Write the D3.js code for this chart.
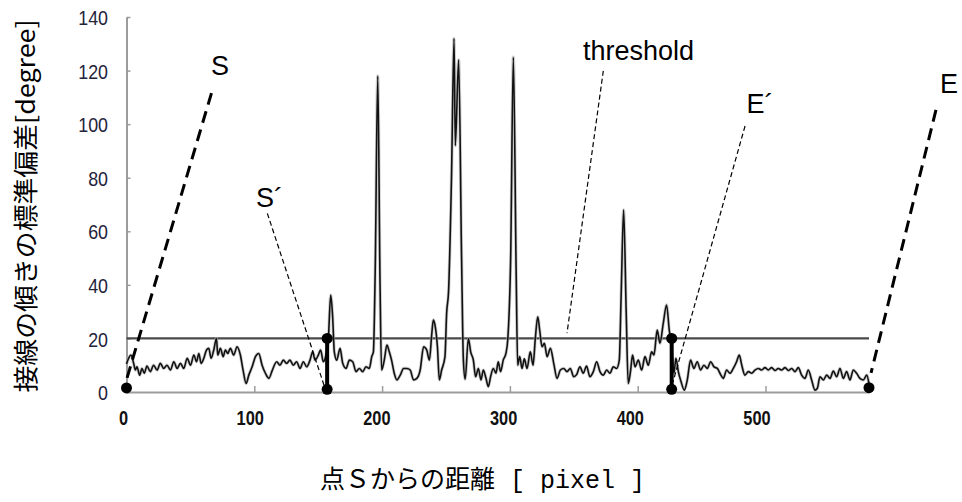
<!DOCTYPE html>
<html>
<head>
<meta charset="utf-8">
<script src="https://cdn.jsdelivr.net/npm/d3@7/dist/d3.min.js"></script>
<style>
  html, body { margin: 0; padding: 0; background: #fff; }
  svg { display: block; }
</style>
</head>
<body>
<svg id="chart" width="962" height="502"></svg>
<script>
// Distance from point S [pixel] and the standard deviation of the tangent slope [degree]
const distance = [
  0, 1.7, 3.5, 5.6, 6.9, 8.2, 10.3, 12.1, 13.9, 16.0, 18.6, 21.2, 23.9, 26.5, 29.1, 31.7, 34.4, 37.0, 39.6, 42.2,
  44.8, 47.5, 50.1, 52.7, 54.8, 56.6, 58.4, 60.5, 62.6, 64.4, 66.2, 68.3, 70.4, 71.4, 73.5, 75.6, 77.4, 79.2, 81.3, 83.9,
  86.5, 89.1, 91.2, 93.6, 95.7, 98.3, 100.9, 103.5, 106.1, 108.7, 111.4, 114.0, 117.5, 120.1, 122.7, 125.3, 127.9, 130.5, 133.1, 135.8,
  138.4, 141.0, 143.6, 145.7, 147.5, 150.1, 151.9, 154.0, 156.1, 157.9, 159.8, 161.3, 162.6, 164.5, 167.1, 169.2, 171.8, 174.4, 177.0, 179.6,
  182.2, 184.8, 187.4, 190.0, 191.9, 193.2, 194.6, 196.6, 198.4, 199.6, 201.7, 203.8, 205.6, 207.4, 209.5, 211.6, 214.2, 216.8, 219.4, 222.0,
  224.6, 227.2, 229.8, 232.5, 234.9, 237.0, 238.8, 240.1, 241.4, 243.3, 244.8, 246.6, 249.2, 250.5, 252.0, 254.3, 256.3, 257.3, 259.9, 262.2,
  263.6, 265.0, 267.5, 269.3, 271.4, 273.2, 275.3, 277.4, 279.2, 281.3, 283.1, 284.9, 287.0, 289.1, 290.9, 292.7, 294.8, 296.9, 298.4, 300.6,
  302.7, 304.9, 306.1, 307.7, 309.5, 311.3, 313.4, 316.0, 318.1, 319.9, 321.8, 323.3, 325.2, 327.0, 329.1, 331.7, 334.3, 336.9, 339.5, 342.1,
  344.7, 347.3, 349.9, 352.2, 354.8, 357.4, 360.0, 362.6, 365.3, 367.9, 370.5, 373.1, 375.7, 378.3, 380.9, 383.5, 385.6, 387.0, 389.0, 391.0,
  392.6, 394.5, 396.0, 397.9, 400.5, 403.1, 405.7, 408.3, 410.9, 412.7, 415.3, 417.4, 420.0, 422.6, 424.7, 426.6, 428.4, 429.9, 431.8, 433.9,
  436.5, 438.8, 441.4, 444.0, 446.6, 449.2, 451.8, 454.5, 457.1, 459.7, 462.3, 464.9, 467.0, 469.6, 472.2, 474.8, 477.4, 479.5, 481.4, 483.9,
  486.6, 489.2, 491.8, 494.4, 497.0, 499.6, 502.2, 504.8, 507.4, 510.0, 512.6, 515.3, 517.9, 520.5, 523.1, 525.7, 528.3, 530.9, 533.5, 536.1,
  538.7, 540.6, 542.6, 545.3, 547.9, 550.5, 553.1, 555.7, 558.3, 560.9, 563.5, 566.1, 568.7, 571.3, 573.9, 576.6, 579.2, 581.0
];
const stdDev = [
  10.5, 12.6, 13.8, 10.7, 8.2, 9.4, 6.3, 8.8, 7.0, 9.7, 7.6, 10.0, 8.2, 10.7, 8.8, 10.0, 8.2, 11.3, 8.8, 10.7,
  8.8, 12.6, 10.0, 13.8, 11.3, 14.4, 10.7, 12.6, 15.7, 16.3, 12.6, 15.7, 20.0, 13.8, 16.3, 13.2, 15.7, 14.4, 16.3, 13.8,
  16.9, 13.8, 8.2, 3.2, 6.3, 9.4, 13.2, 14.4, 10.0, 7.0, 5.1, 8.0, 11.3, 10.0, 11.9, 10.7, 11.9, 10.0, 11.3, 8.8,
  11.3, 9.4, 11.9, 15.0, 11.9, 13.8, 15.7, 11.3, 13.8, 19.4, 36.2, 28.1, 15.0, 11.9, 16.3, 10.7, 8.8, 11.9, 11.3, 7.6,
  8.8, 7.6, 9.4, 8.8, 13.2, 15.0, 45, 118, 40, 8.2, 11.9, 17.5, 15.0, 11.9, 7.0, 4.5, 6.3, 8.8, 8.8, 8.2,
  4.5, 5.1, 8.2, 16.9, 15.7, 11.9, 21.3, 26.9, 25.0, 16.9, 4.5, 8.2, 13.2, 29.4, 37.5, 80, 132, 92, 124, 50,
  12, 4.8, 20.0, 15.0, 11.9, 5.7, 8.8, 4.5, 8.2, 5.1, 2.0, 5.7, 8.8, 7.0, 11.3, 7.6, 11.9, 14.4, 20.0, 50,
  125, 45, 10.0, 13.2, 8.8, 12.4, 8.8, 15.0, 10.0, 20.0, 28.1, 23.1, 16.9, 18.2, 13.2, 16.3, 10.7, 5.1, 8.2, 8.8,
  7.6, 8.8, 5.7, 6.5, 9.4, 7.0, 9.7, 5.7, 7.6, 11.3, 7.6, 6.3, 8.2, 7.0, 9.4, 8.8, 11.9, 35, 68, 30,
  3.2, 8.2, 13.8, 9.4, 11.9, 8.2, 13.2, 10.0, 15.0, 13.8, 23.1, 18.2, 25.6, 32.5, 23.1, 16.9, 7.0, 12.6, 7.6, 3.9,
  0.7, 4.5, 11.9, 8.8, 11.3, 8.2, 10.0, 8.8, 11.3, 9.4, 8.8, 6.5, 5.1, 8.2, 7.0, 8.8, 11.3, 13.8, 10.1, 6.3,
  7.6, 7.0, 8.2, 8.8, 8.2, 9.1, 8.2, 9.1, 8.0, 8.8, 8.2, 9.1, 8.0, 8.8, 7.6, 9.1, 6.3, 5.1, 8.2, 4.5,
  0.7, 1.4, 5.7, 4.5, 6.3, 5.1, 7.8, 5.7, 8.8, 5.1, 7.6, 4.5, 8.2, 7.0, 5.1, 4.5, 6.3, 3.0
];

const thresholdValue = 20;
const yTickValues = [0, 20, 40, 60, 80, 100, 120, 140];
const xTickLabels = [0, 100, 200, 300, 400, 500];

// End points S, E and threshold crossings S´, E´ (distance, value)
const endPoints = [[0, 1.5], [581, 1.6]];
const crossings = [[157, 1, 20], [426.6, 1, 20]];

// Callout labels: text, anchor (distance, value), leader from -> to
const callouts = [
  { text: "S",         at: [66.1, 118.3],  from: [66.5, 111.6],  to: [0.4, 5.2],   bold: true },
  { text: "S\u00B4",   at: [101.3, 69],    from: [110.2, 66.7],  to: [154.5, 2.6], bold: false },
  { text: "threshold", at: [357.2, 123.9], from: [373.1, 119.9], to: [344.7, 22],  bold: false },
  { text: "E\u00B4",   at: [485.1, 104],   from: [484, 99.3],    to: [427.6, 3.7], bold: false },
  { text: "E",         at: [636.5, 111.5], from: [633.4, 105.3], to: [582.6, 7.1], bold: true }
];

const svg = d3.select("#chart");

const x = d3.scaleLinear().domain([0, 581]).range([126.5, 869]);
const y = d3.scaleLinear().domain([0, 140]).range([392, 17]);
// tick label positions along the category axis
const xLabel = d3.scaleLinear().domain([0, 500]).range([123.5, 757]);

const axisColor = "#9c9c9c";

// Y axis
const yAxis = svg.append("g")
  .attr("transform", `translate(${x(0)},0)`)
  .call(d3.axisLeft(y).tickValues(yTickValues).tickSizeInner(-4).tickSizeOuter(0).tickPadding(0));
yAxis.select(".domain").attr("stroke", axisColor).attr("stroke-width", 2);
yAxis.selectAll(".tick line").attr("stroke", axisColor).attr("stroke-width", 1.5);
yAxis.selectAll(".tick text")
  .attr("x", null)
  .attr("dy", "0.36em")
  .attr("transform", "translate(-18.5,0) scale(0.85,1)")
  .attr("text-anchor", "end")
  .attr("fill", "#23233a")
  .style("font-family", "'Liberation Sans', Arial, sans-serif")
  .style("font-size", "21px");

// X axis
const xAxis = svg.append("g")
  .attr("transform", `translate(0,${y(0)})`)
  .call(d3.axisBottom(x).tickValues([100, 200, 300, 400, 500]).tickSizeInner(-6).tickSizeOuter(0).tickFormat(""));
xAxis.select(".domain").attr("stroke", axisColor).attr("stroke-width", 2);
xAxis.selectAll(".tick line").attr("stroke", axisColor).attr("stroke-width", 1.5);

svg.append("g").selectAll("text")
  .data(xTickLabels)
  .join("text")
  .attr("transform", d => `translate(${xLabel(d)},418) scale(0.82,1)`)
  .attr("text-anchor", "middle")
  .attr("dy", "0.36em")
  .style("font-family", "'Liberation Sans', Arial, sans-serif")
  .style("font-weight", "bold")
  .style("font-size", "20px")
  .attr("fill", "#111")
  .text(d => d);

// Threshold line
svg.append("line")
  .attr("x1", x(0)).attr("x2", x(581))
  .attr("y1", y(thresholdValue)).attr("y2", y(thresholdValue))
  .attr("stroke", "#4a4a4a").attr("stroke-width", 2.2);

// Data series
const points = distance.map((d, i) => [d, stdDev[i]]);
const line = d3.line().x(d => x(d[0])).y(d => y(d[1])).curve(d3.curveMonotoneX);
svg.append("path").datum(points)
  .attr("d", line).attr("fill", "none")
  .attr("stroke", "#b0b0b0").attr("stroke-width", 3.2).attr("stroke-opacity", 0.65);
svg.append("path").datum(points)
  .attr("d", line).attr("fill", "none")
  .attr("stroke", "#111").attr("stroke-width", 1.6).attr("stroke-linejoin", "round");

// Callout leaders and labels
const callG = svg.append("g");
callG.selectAll("line")
  .data(callouts)
  .join("line")
  .attr("x1", d => x(d.from[0])).attr("y1", d => y(d.from[1]))
  .attr("x2", d => x(d.to[0])).attr("y2", d => y(d.to[1]))
  .attr("stroke", "#000")
  .attr("stroke-width", d => d.bold ? 3 : 1.2)
  .attr("stroke-dasharray", d => d.bold ? "12 7" : "5 3");
callG.selectAll("text")
  .data(callouts)
  .join("text")
  .attr("x", d => x(d.at[0])).attr("y", d => y(d.at[1]))
  .style("font-family", "'Liberation Sans', Arial, sans-serif")
  .style("font-size", "27px")
  .attr("fill", "#000")
  .text(d => d.text);

// Threshold crossings S´ and E´
svg.append("g").selectAll("line")
  .data(crossings)
  .join("line")
  .attr("x1", d => x(d[0])).attr("x2", d => x(d[0]))
  .attr("y1", d => y(d[1])).attr("y2", d => y(d[2]))
  .attr("stroke", "#000").attr("stroke-width", 4);

const dots = endPoints.concat(crossings.flatMap(d => [[d[0], d[1]], [d[0], d[2]]]));
svg.append("g").selectAll("circle")
  .data(dots)
  .join("circle")
  .attr("cx", d => x(d[0])).attr("cy", d => y(d[1]))
  .attr("r", 5.5).attr("fill", "#000");

// Axis titles
svg.append("text")
  .attr("transform", "translate(24,206) rotate(-90)")
  .attr("text-anchor", "middle")
  .attr("dominant-baseline", "central")
  .attr("textLength", 373)
  .attr("lengthAdjust", "spacingAndGlyphs")
  .style("font-family", "'Noto Sans CJK JP', sans-serif")
  .style("font-size", "25px")
  .attr("fill", "#000")
  .text("接線の傾きの標準偏差[degree]");

const xTitle = svg.append("text")
  .attr("x", 320).attr("y", 488)
  .attr("fill", "#000");
xTitle.append("tspan")
  .style("font-family", "'Noto Sans CJK JP', sans-serif")
  .style("font-size", "25px")
  .text("点Ｓからの距離");
xTitle.append("tspan")
  .style("font-family", "'Liberation Mono', monospace")
  .style("font-size", "25px")
  .text(" [ pixel ]");
</script>
</body>
</html>
